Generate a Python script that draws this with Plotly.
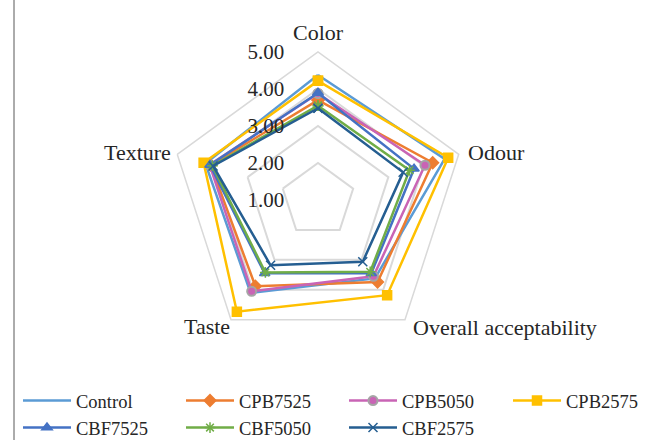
import plotly.graph_objects as go

# Sensory attributes, clockwise from the top
categories = ["Color", "Odour", "Overall acceptability", "Taste", "Texture"]

control = [4.38, 4.60, 3.62, 4.10, 4.20]
cpb7525 = [3.70, 4.26, 3.74, 3.88, 4.05]
cpb5050 = [3.88, 4.04, 3.55, 4.05, 4.08]
cpb2575 = [4.22, 4.70, 4.18, 4.73, 4.25]
cbf7525 = [3.89, 3.73, 3.45, 3.45, 4.07]
cbf5050 = [3.55, 3.60, 3.40, 3.42, 4.00]
cbf2575 = [3.48, 3.42, 3.06, 3.18, 3.98]

radial_ticks = [1, 2, 3, 4, 5]
radial_ticktext = ["1.00", "2.00", "3.00", "4.00", "5.00"]

# name, values, colour, marker symbol, marker edge, legend column
series = [
    ("Control", control, "#5B9BD5", None, None, "legend"),
    ("CPB7525", cpb7525, "#ED7D31", "diamond", None, "legend2"),
    ("CPB5050", cpb5050, "#C964B5", "circle", "#A5A5A5", "legend3"),
    ("CPB2575", cpb2575, "#FFC000", "square", None, "legend4"),
    ("CBF7525", cbf7525, "#4472C4", "triangle-up", None, "legend"),
    ("CBF5050", cbf5050, "#70AD47", "asterisk-open", None, "legend2"),
    ("CBF2575", cbf2575, "#255E91", "x-thin-open", None, "legend3"),
]

fig = go.Figure()
for name, vals, color, symbol, edge, leg in series:
    closed_r = vals + vals[:1]
    closed_t = categories + categories[:1]
    if symbol is None:
        fig.add_trace(go.Scatterpolar(
            r=closed_r, theta=closed_t, name=name, mode="lines", legend=leg,
            line=dict(color=color, width=2.5),
        ))
    else:
        fig.add_trace(go.Scatterpolar(
            r=closed_r, theta=closed_t, name=name, mode="lines+markers", legend=leg,
            line=dict(color=color, width=2.5),
            marker=dict(symbol=symbol, size=9, color=color,
                        line=dict(color=edge if edge else color, width=2 if edge else 1.5)),
        ))

# Category labels placed around the pentagon
label_pos = {
    "Color": (318, 33),
    "Odour": (496, 153),
    "Overall acceptability": (505, 327),
    "Taste": (207, 326),
    "Texture": (137, 153),
}
annotations = [
    dict(text=c, x=label_pos[c][0] / 651, y=1 - label_pos[c][1] / 440,
         xref="paper", yref="paper", showarrow=False,
         xanchor="center", yanchor="middle",
         font=dict(size=22, color="#262626"))
    for c in categories
]

legend_style = dict(
    orientation="v", yanchor="top", xanchor="left",
    font=dict(size=18.5, color="#262626"), itemwidth=48,
    bgcolor="rgba(0,0,0,0)", tracegroupgap=0,
)
legend_top = 1 - 382 / 440

fig.update_layout(
    width=651, height=440,
    margin=dict(l=0, r=0, t=0, b=0, autoexpand=False),
    paper_bgcolor="white",
    font=dict(family="Liberation Serif, Times New Roman, serif", size=18, color="#262626"),
    polar=dict(
        domain=dict(x=[0.2611, 0.7158], y=[0.2091, 0.8818]),
        bgcolor="white",
        gridshape="linear",
        radialaxis=dict(
            range=[1, 5], tickvals=radial_ticks, ticktext=radial_ticktext,
            angle=90, tickangle=90, side="counterclockwise",
            showline=False, ticks="outside", ticklen=26, tickcolor="rgba(0,0,0,0)",
            gridcolor="#D9D9D9", gridwidth=1.5,
            tickfont=dict(size=21, color="#262626"),
        ),
        angularaxis=dict(
            direction="clockwise", rotation=90,
            showgrid=False, showline=True, linecolor="#D9D9D9", linewidth=1.5,
            ticks="", showticklabels=False,
        ),
    ),
    legend=dict(x=18 / 651, y=legend_top, **legend_style),
    legend2=dict(x=181 / 651, y=legend_top, **legend_style),
    legend3=dict(x=344 / 651, y=legend_top, **legend_style),
    legend4=dict(x=508 / 651, y=legend_top, **legend_style),
    annotations=annotations,
    shapes=[dict(type="line", xref="paper", yref="paper",
                 x0=14 / 651, x1=14 / 651, y0=0, y1=1,
                 line=dict(color="#595959", width=1))],
)

fig.write_html("out.html")
